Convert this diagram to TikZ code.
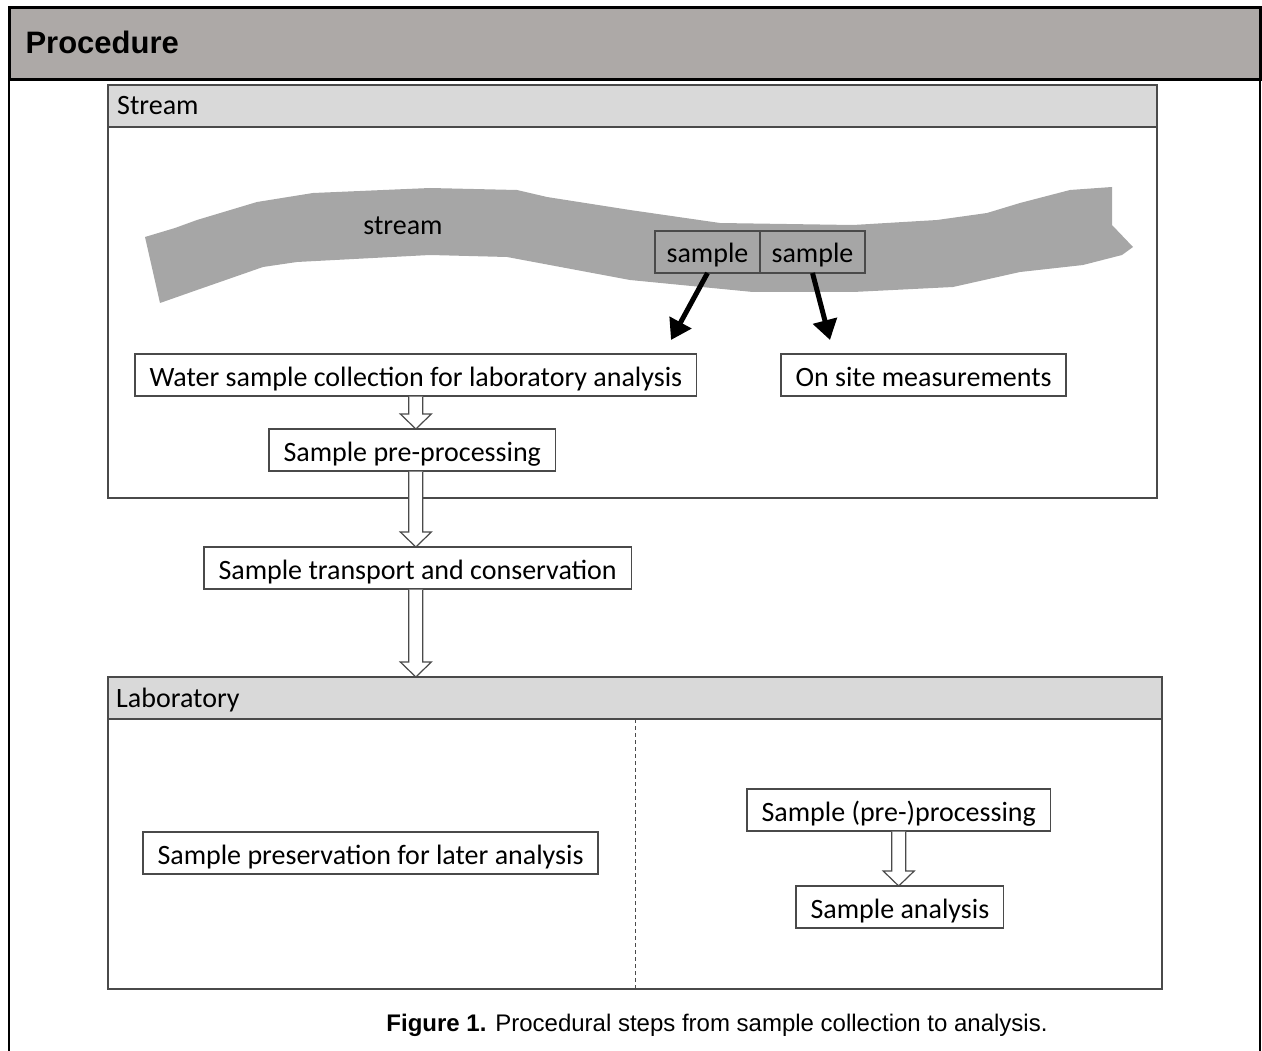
\documentclass[tikz,border=0pt]{standalone}
\usepackage{fontspec}
\setmainfont{Carlito}
\newfontfamily\arialfont{Liberation Sans}
\usetikzlibrary{arrows.meta,calc,positioning}

\definecolor{headgray}{HTML}{ADA9A7}
\definecolor{bandgray}{HTML}{D9D9D9}
\definecolor{rivergray}{HTML}{A6A6A6}
\definecolor{linegray}{HTML}{4A4A4A}

\tikzset{
  box/.style={draw=linegray, fill=white, line width=1.2pt, inner xsep=14.5pt, inner ysep=0pt,
    outer sep=0pt, minimum height=42pt, text height=26pt, text depth=4pt, anchor=north west},
  samplebox/.style={box, fill=rivergray, minimum width=105pt, inner xsep=0pt},
  frame/.style={draw=linegray, line width=1.5pt, inner sep=0pt, outer sep=0pt, anchor=north west},
  band/.style={frame, fill=bandgray, minimum height=42pt},
  bigarrow/.style={line width=5pt, -{Triangle[length=20pt,width=24pt]}},
  hollow/.style={draw=linegray, fill=white, line width=1.2pt,
    to path={let \p1=(\tikztostart), \p2=(\tikztotarget) in
      (\x1-7pt,\y1-0.6pt) -- (\x1-7pt,\y2+15pt) -- (\x1-15.5pt,\y2+15pt) -- (\x1,\y2)
      -- (\x1+15.5pt,\y2+15pt) -- (\x1+7pt,\y2+15pt) -- (\x1+7pt,\y1-0.6pt)}}
}

\begin{document}
\begin{tikzpicture}[x=1pt,y=1pt,font=\fontsize{28}{32}\selectfont]

      \useasboundingbox (0,0) rectangle (1262,-1051);

      \node[anchor=north west, fill=headgray, draw=black, line width=3pt, inner sep=0pt, outer sep=0pt,
        minimum width=1251pt, minimum height=72pt] (procbar) at (9,-8) {};
      \node[anchor=base west] (proctitle) at (22,-54) {\arialfont\bfseries\fontsize{31}{36}\selectfont Procedure};
      \draw[line width=2.5pt] (procbar.south west) -- ++(0,-975);
      \draw[line width=2.5pt] (procbar.south east) -- ++(0,-975);

      \node[frame, minimum width=1049pt, minimum height=413pt] (streamframe) at (108,-85) {};
      \node[band, minimum width=1049pt] (streamhead) at (108,-85) {};
      \node[anchor=base west, inner sep=0pt] (streamlabel) at (117,-115) {Stream};

      \fill[rivergray] (145,-237) -- (175,-228) -- (197,-220) -- (257,-202) -- (313,-193)
        -- (430,-188) -- (517,-190) -- (547,-197) -- (630,-210) -- (720,-223) -- (853,-225)
        -- (937,-220) -- (987,-213) -- (1020,-203) -- (1070,-190) -- (1112,-187)
        -- (1112,-225) -- (1133,-247) -- (1122,-255) -- (1083,-265) -- (1020,-272)
        -- (953,-287) -- (853,-292) -- (753,-292) -- (630,-280) -- (507,-257) -- (430,-255)
        -- (297,-262) -- (263,-267) -- (197,-290) -- (160,-303) -- cycle;
      \node[anchor=base] (rivername) at (403,-235) {stream};

      \node[samplebox] (sampleA) at (655,-231) {sample};
      \node[samplebox] (sampleB) at (760,-231) {sample};
      \coordinate (tipA) at (671,-340);
      \coordinate (tipB) at (830,-340);

      \node[box] (collect) at (135,-354) {Water sample collection for laboratory analysis};
      \node[box] (onsite) at (781,-354) {On site measurements};
      \node[box] (preproc) at (269,-429) {Sample pre-processing};
      \node[box] (transport) at (204,-547) {Sample transport and conservation};

      \node[frame, minimum width=1054pt, minimum height=312pt] (labframe) at (108,-677) {};
      \node[band, minimum width=1054pt] (labhead) at (108,-677) {};
      \node[anchor=base west, inner sep=0pt] (lablabel) at (116,-707) {Laboratory};
      \draw[linegray, line width=1pt, dash pattern=on 4pt off 3pt] (labhead.south) -- (labframe.south);

      \node[box] (preserve) at (143,-832) {Sample preservation for later analysis};
      \node[box] (labproc) at (747,-789) {Sample (pre-)processing};
      \node[box] (analysis) at (796,-886) {Sample analysis};

      \draw[bigarrow] (sampleA.south) -- (tipA);
      \draw[bigarrow] (sampleB.south) -- (tipB);

      \path
      (collect.south) edge[hollow] (preproc.north -| collect.south)
      (preproc.south -| collect.south) edge[hollow] (transport.north -| collect.south)
      (transport.south -| collect.south) edge[hollow] (labhead.north -| collect.south)
      (labproc.south) edge[hollow] (analysis.north)
      ;

      \node[anchor=base] (caption) at (717,-1031) {\arialfont\fontsize{24}{28}\selectfont
        \textbf{Figure 1.} Procedural steps from sample collection to analysis.};
\end{tikzpicture}
\end{document}
